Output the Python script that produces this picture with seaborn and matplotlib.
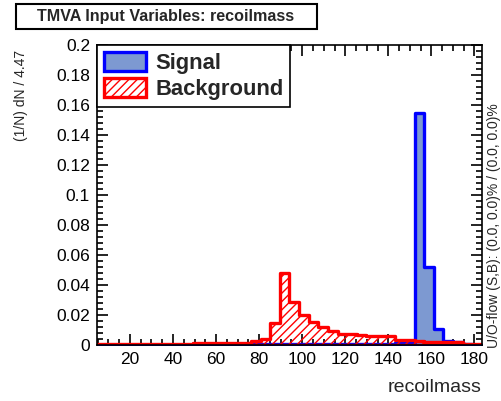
import numpy as np
import pandas as pd
import matplotlib
matplotlib.use("Agg")
import matplotlib.pyplot as plt
import seaborn as sns
from matplotlib.ticker import MultipleLocator, FixedLocator
from matplotlib.patches import Patch, Rectangle

# Binning of the recoil-mass distribution
bin_width = 4.47
x_start = 4.7
n_bins = 40
bin_edges = [x_start + bin_width * k for k in range(n_bins + 1)]
bin_centers = [x_start + bin_width * (k + 0.5) for k in range(n_bins)]

# Normalised bin contents, (1/N) dN per bin
signal = [
    0.0, 0.0, 0.0, 0.0, 0.0, 0.0, 0.0, 0.0, 0.0, 0.0,
    0.0, 0.0, 0.0, 0.0, 0.0, 0.0, 0.0004, 0.0004, 0.0004, 0.0004,
    0.0004, 0.0004, 0.0004, 0.0004, 0.0004, 0.0004, 0.0005, 0.0005, 0.0005, 0.0006,
    0.0008, 0.0015, 0.002, 0.155, 0.052, 0.011, 0.003, 0.002, 0.0005, 0.0,
]
background = [
    0.0007, 0.0007, 0.0007, 0.0007, 0.0007, 0.0007, 0.0007, 0.0007, 0.0007, 0.0007,
    0.0013, 0.0013, 0.0013, 0.0013, 0.0013, 0.0013, 0.0025, 0.004, 0.015, 0.048,
    0.029, 0.020, 0.0155, 0.012, 0.0093, 0.0075, 0.0075, 0.0065, 0.0063, 0.006,
    0.006, 0.0033, 0.0033, 0.003, 0.002, 0.002, 0.002, 0.002, 0.001, 0.001,
]

x_ticks = [20, 40, 60, 80, 100, 120, 140, 160, 180]
y_ticks = [0, 0.02, 0.04, 0.06, 0.08, 0.1, 0.12, 0.14, 0.16, 0.18, 0.2]
y_tick_labels = ["0", "0.02", "0.04", "0.06", "0.08", "0.1", "0.12", "0.14", "0.16", "0.18", "0.2"]

sig_fill = "#7d99d1"
sig_line = "#0000ff"
bkg_line = "#ff0000"

df = pd.DataFrame({"recoilmass": bin_centers, "signal": signal, "background": background})

sns.set_style("ticks")
plt.rcParams["font.family"] = ["Liberation Sans", "DejaVu Sans"]
plt.rcParams["hatch.linewidth"] = 1.0
plt.rcParams["hatch.color"] = bkg_line

fig = plt.figure(figsize=(5.02, 4.01), dpi=100)
W, H = 502.0, 401.0
ax = fig.add_axes([97 / W, 1 - 345 / H, (482 - 97) / W, (345 - 45) / H])

# Signal: filled step histogram
sns.histplot(data=df, x="recoilmass", weights="signal", bins=bin_edges,
             element="step", fill=True, ax=ax, color=sig_fill, alpha=1.0)
sig_poly = ax.collections[-1]
sig_poly.set_facecolor(sig_fill)
sig_poly.set_edgecolor(sig_line)
sig_poly.set_linewidth(2.4)

# Background: hatched step histogram
sns.histplot(data=df, x="recoilmass", weights="background", bins=bin_edges,
             element="step", fill=True, ax=ax, color=bkg_line, alpha=1.0)
bkg_poly = ax.collections[-1]
bkg_poly.set_facecolor("none")
bkg_poly.set_edgecolor(bkg_line)
bkg_poly.set_hatch("////")
bkg_poly.set_linewidth(2.4)

ax.set_xlim(bin_edges[0], bin_edges[-1])
ax.set_ylim(0, 0.2)

ax.xaxis.set_major_locator(FixedLocator(x_ticks))
ax.xaxis.set_minor_locator(MultipleLocator(5))
ax.yaxis.set_major_locator(FixedLocator(y_ticks))
ax.set_yticklabels(y_tick_labels)
ax.yaxis.set_minor_locator(MultipleLocator(0.004))
ax.tick_params(which="both", direction="in", top=True, right=True,
               colors="black", labelsize=12.5, width=1.2)
ax.tick_params(which="major", length=8, pad=5)
ax.tick_params(which="minor", length=4)
for s in ax.spines.values():
    s.set_linewidth(1.2)
    s.set_color("black")

ax.set_xlabel("recoilmass", fontsize=14, loc="right", labelpad=9)
ax.set_ylabel("(1/N) dN / 4.47", fontsize=10)
ylab = ax.yaxis.label
ylab.set_rotation_mode("anchor")
ylab.set_ha("right")
ylab.set_va("center")
ax.yaxis.set_label_coords((21 - 97) / 385, (345 - 50) / 300)

handles = [
    Patch(facecolor=sig_fill, edgecolor=sig_line, linewidth=2.4, label="Signal"),
    Patch(facecolor="none", edgecolor=bkg_line, hatch="////", linewidth=2.4,
          label="Background"),
]
leg = ax.legend(handles=handles, loc="upper left", bbox_to_anchor=(0, 1),
                borderaxespad=0, frameon=True, fancybox=False,
                prop={"weight": "bold", "size": 15.8}, handlelength=1.95,
                handleheight=0.95, handletextpad=0.4, labelspacing=0.2,
                borderpad=0.3)
leg.get_frame().set_edgecolor("black")
leg.get_frame().set_linewidth(1.2)
leg.get_frame().set_facecolor("white")
leg.get_frame().set_alpha(1.0)

# Title box above the frame
fig.patches.append(Rectangle((16 / W, 1 - 29 / H), 301 / W, 25 / H,
                             transform=fig.transFigure, facecolor="white",
                             edgecolor="black", linewidth=1.5))
fig.text(166 / W, 1 - 17 / H, "TMVA Input Variables: recoilmass",
         ha="center", va="center", fontsize=11.6, fontweight="bold")

# Under/overflow note along the right edge
fig.text(494.5 / W, 1 - 348 / H, "U/O-flow (S,B): (0.0, 0.0)% / (0.0, 0.0)%",
         rotation=90, ha="center", va="bottom", fontsize=10)

fig.savefig("out.png", dpi=100)
